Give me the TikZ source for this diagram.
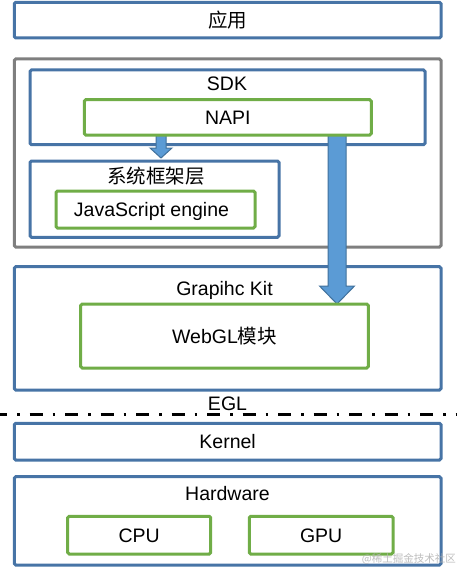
\documentclass[tikz,border=0pt]{standalone}
\usepackage{fontspec}
\setmainfont{Liberation Sans}
\newfontfamily\cjk{Noto Sans CJK SC}
\usetikzlibrary{calc}
\definecolor{boxblue}{HTML}{4774A6}
\definecolor{boxgreen}{HTML}{70AD47}
\definecolor{boxgray}{HTML}{7F7F7F}
\definecolor{arrowfill}{HTML}{5B9BD5}
\definecolor{arrowline}{HTML}{41719C}
\pgfdeclarelayer{background}
\pgfdeclarelayer{mid}
\pgfsetlayers{background,mid,main}
\tikzset{
  basebox/.style={rectangle, rounded corners=1.5pt, line width=3pt, fill=white, inner sep=0pt, outer sep=0pt},
  bluebox/.style={basebox, draw=boxblue},
  greenbox/.style={basebox, draw=boxgreen},
  graybox/.style={basebox, draw=boxgray},
  lbl/.style={font=\fontsize{19.5}{20}\selectfont, text height=14pt, text depth=0pt, inner sep=0pt},
  blockarrow/.style={fill=arrowfill, draw=arrowline, line width=1pt, line join=miter},
  sepline/.style={line width=3pt, black, dash pattern=on 13pt off 10pt on 2.5pt off 10pt, dash phase=6pt},
}
\newcommand\blkarrow[5]{%
  \draw[blockarrow] ($(#1)+(-#3,0)$) -- ($(#2)+(-#3,-#5)$) -- ($(#2)+(-#4,-#5)$) -- (#2)
    -- ($(#2)+(#4,-#5)$) -- ($(#2)+(#3,-#5)$) -- ($(#1)+(#3,0)$) -- cycle;}
\begin{document}
\begin{tikzpicture}[x=1pt,y=-1pt]
\useasboundingbox (0,0) rectangle (457,567);

% top application layer
\node[bluebox, lbl, minimum width=426.7pt, minimum height=35.7pt] (app) at (227.65,20.15) {\cjk 应用};

\begin{pgfonlayer}{background}
  \node[graybox, minimum width=426.7pt, minimum height=188pt] (fw) at (227.65,153) {};
  \node[bluebox, minimum width=395pt, minimum height=74.7pt] (sdk) at (227.5,107.35) {};
  \node[bluebox, minimum width=249pt, minimum height=76.3pt] (sys) at (154.5,199.15) {};
  \node[bluebox, minimum width=426.7pt, minimum height=123.3pt] (gk) at (227.65,328.35) {};
\end{pgfonlayer}

\node[lbl] (sdkt) at (227,83.7) {SDK};
\node[greenbox, lbl, minimum width=287pt, minimum height=35.3pt] (napi) at (227.8,117.35) {NAPI};
\node[lbl] (syst) at (156,176.5) {\cjk 系统框架层};
\node[greenbox, lbl, minimum width=199pt, minimum height=37pt] (js) at (155.5,209.5) {JavaScript engine\hspace*{8pt}};
\node[lbl] (gkt) at (224.5,288.7) {Grapihc Kit};
\node[greenbox, lbl, minimum width=287.6pt, minimum height=64pt] (webgl) at (224.5,336) {WebGL{\cjk 模块}};

% arrows
\coordinate (smallx) at (161,0);
\coordinate (bigx) at (337,0);
\begin{pgfonlayer}{mid}
  \coordinate (a1s) at (napi.south -| smallx);
  \coordinate (a1e) at ($(sys.north -| smallx)+(0,-3)$);
  \blkarrow{a1s}{a1e}{5}{11}{10}
  \coordinate (a2s) at (napi.south -| bigx);
  \coordinate (a2e) at (webgl.north -| bigx);
  \blkarrow{a2s}{a2e}{9}{17.5}{18}
\end{pgfonlayer}

% EGL separator
\node[lbl] (egl) at (227.5,403) {EGL};
\coordinate (sepL) at (0,414);
\coordinate (sepR) at (457,414);
\draw[sepline] (sepL) -- (sepR);

% kernel and hardware
\node[bluebox, lbl, minimum width=426.7pt, minimum height=36.7pt] (kernel) at (227.65,441.65) {Kernel};
\node[bluebox, minimum width=426.7pt, minimum height=88.3pt] (hw) at (227.65,520.85) {};
\node[lbl] (hwt) at (227.5,493.7) {Hardware};
\node[greenbox, lbl, minimum width=143pt, minimum height=37.7pt] (cpu) at (139.2,535.15) {CPU};
\node[greenbox, lbl, minimum width=143.7pt, minimum height=37.7pt] (gpu) at (321.15,535.15) {GPU};

% watermark
\node[font=\cjk\fontsize{10.5}{11}\selectfont, text=black!30, opacity=0.85, inner sep=0pt, anchor=east] (wm) at (456,559) {@稀土掘金技术社区};
\end{tikzpicture}
\end{document}
